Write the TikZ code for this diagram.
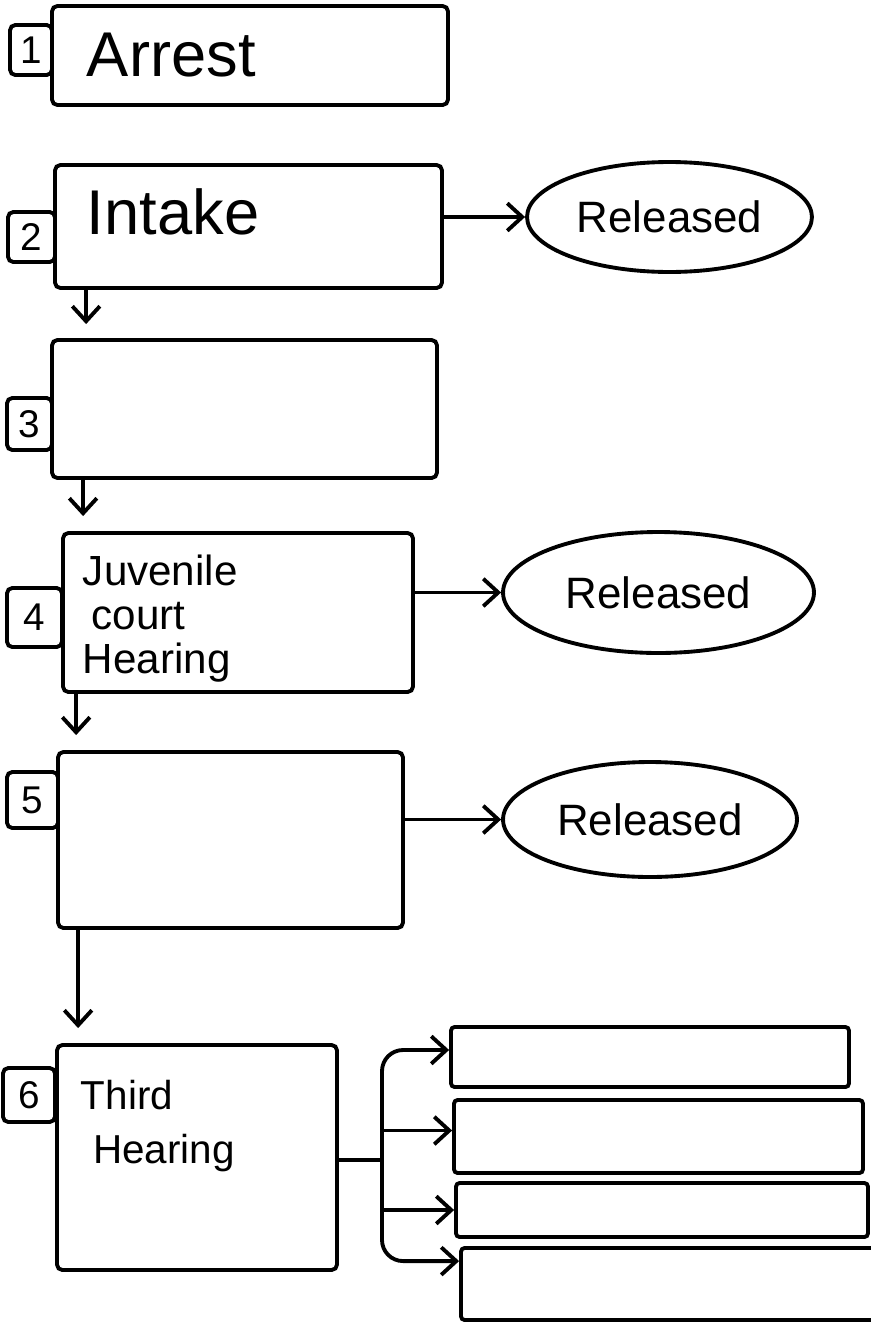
\documentclass[tikz,border=0pt]{standalone}
\usepackage{fontspec}
\setmainfont{Liberation Sans}
\usetikzlibrary{shapes.geometric,arrows.meta,positioning}

\begin{document}
\begin{tikzpicture}[->, >={Straight Barb[length=0.3cm,width=0.55cm]}, line width=2.2pt, x=0.02cm, y=-0.02cm]
\tikzstyle{stage}=[draw, rounded corners=3pt, inner sep=0pt]
\tikzstyle{tag}=[draw, rounded corners=3pt, inner sep=0pt, font=\fontsize{22}{24}\selectfont]
\tikzstyle{released}=[ellipse, draw, inner sep=0pt, font=\fontsize{25}{28}\selectfont]
\tikzstyle{outcome}=[draw, rounded corners=2pt, inner sep=0pt]
\tikzstyle{caption}=[inner sep=0pt, align=left]
\clip (0,0) rectangle (871,1322);

% stages down the left side
\node[stage, minimum width=7.92cm, minimum height=1.98cm] (b1) at (250,55.5) {};
\node[stage, minimum width=7.74cm, minimum height=2.46cm] (b2) at (248.5,226.5) {};
\node[stage, minimum width=7.7cm, minimum height=2.76cm]  (b3) at (244.5,409) {};
\node[stage, minimum width=7.0cm, minimum height=3.18cm]  (b4) at (238,612.5) {};
\node[stage, minimum width=6.9cm, minimum height=3.52cm]  (b5) at (230.5,840) {};
\node[stage, minimum width=5.6cm, minimum height=4.5cm]   (b6) at (197,1157.5) {};

% number tags
\node[tag, minimum width=0.84cm, minimum height=1.0cm]  (t1) at (31,50) {1};
\node[tag, minimum width=0.94cm, minimum height=1.0cm]  (t2) at (31.5,237) {2};
\node[tag, minimum width=0.9cm, minimum height=1.04cm]  (t3) at (29.5,424) {3};
\node[tag, minimum width=1.1cm, minimum height=1.18cm]  (t4) at (34.5,617.5) {4};
\node[tag, minimum width=1.02cm, minimum height=1.12cm] (t5) at (32.5,800) {5};
\node[tag, minimum width=1.04cm, minimum height=1.08cm] (t6) at (29,1095) {6};

% texts in the stages
\node[caption, anchor=west, font=\fontsize{36}{40}\selectfont] (l1) at (85,55) {Arrest};
\node[caption, anchor=west, font=\fontsize{36}{40}\selectfont] (l2) at (85,212) {Intake};
\node[caption, anchor=north west, font=\fontsize{24}{25}\selectfont] (l4) at (81,553)
  {Juvenile\\\hspace*{5pt}court\\Hearing};
\node[caption, anchor=north west, font=\fontsize{23}{31}\selectfont] (l6) at (79,1078)
  {Third\\\hspace*{7pt}Hearing};

% released
\node[released, minimum width=5.7cm, minimum height=2.2cm]   (r2) at (669.5,217) {Released};
\node[released, minimum width=6.22cm, minimum height=2.42cm] (r4) at (658.5,592.5) {Released};
\node[released, minimum width=5.88cm, minimum height=2.3cm]  (r5) at (650,819.5) {Released};

% boxes after the third hearing
\node[outcome, minimum width=7.96cm, minimum height=1.2cm]  (o1) at (650,1057) {};
\node[outcome, minimum width=8.18cm, minimum height=1.46cm] (o2) at (658.5,1136.5) {};
\node[outcome, minimum width=8.24cm, minimum height=1.08cm] (o3) at (662,1210) {};
\node[outcome, minimum width=8.48cm, minimum height=1.44cm] (o4) at (673,1284) {};

% down arrows
\coordinate (s23) at ([xshift=0.66cm]b2.south west);
\coordinate (s34) at ([xshift=0.66cm]b3.south west);
\coordinate (s45) at ([xshift=0.3cm]b4.south west);
\coordinate (s56) at ([xshift=0.44cm]b5.south west);
\draw[shorten >=0.28cm] (s23) -- (s23 |- b3.north);
\draw[shorten >=0.3cm] (s34) -- (s34 |- b4.north);
\draw[shorten >=0.3cm] (s45) -- (s45 |- b5.north);
\draw[shorten >=0.3cm] (s56) -- (s56 |- b6.north);

% out to released
\draw (b2.east |- r2.west) -- (r2.west);
\draw (b4.east |- r4.west) -- (r4.west);
\draw (b5.east |- r5.west) -- (r5.west);

% fork
\coordinate (fork) at (382,1160);
\draw[-] (b6.east |- fork) -- (fork);
\draw[rounded corners=12pt] (fork) |- ([yshift=0.14cm]o1.west);
\draw (fork) |- ([yshift=0.12cm]o2.west);
\draw (fork) |- (o3.west);
\draw[rounded corners=12pt] (fork) |- ([yshift=-0.3cm]o4.north west);
\end{tikzpicture}
\end{document}
